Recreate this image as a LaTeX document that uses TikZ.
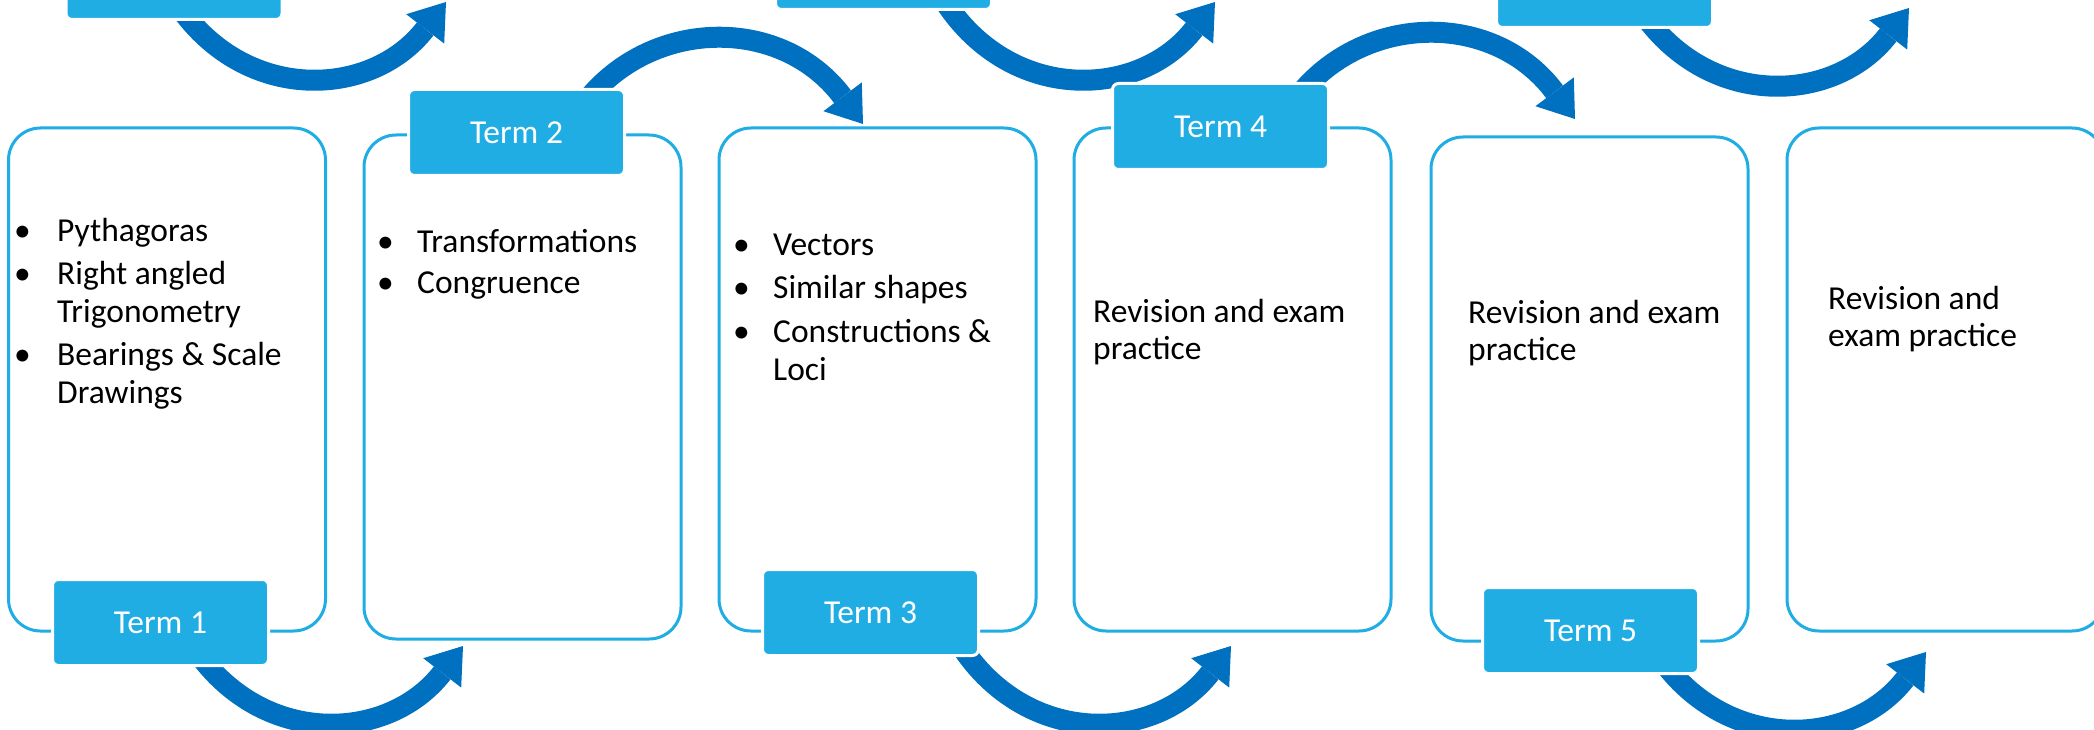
\documentclass[tikz,border=0pt]{standalone}
\usepackage{fontspec}
\setmainfont{Carlito}
\usetikzlibrary{arrows.meta}
\definecolor{termblue}{HTML}{1FADE4}
\definecolor{arrowblue}{HTML}{0070C0}
\newcommand{\bitem}[1]{\makebox[#1][l]{\textbullet}}
\begin{document}
\begin{tikzpicture}[x=1pt,y=-1pt,
  bigbox/.style={draw=termblue, line width=3pt, fill=white, rounded corners=32pt,
    minimum width=317pt, minimum height=503pt, inner sep=0pt},
  termbox/.style={draw=white, line width=3pt, fill=termblue, rounded corners=6pt,
    minimum width=216pt, minimum height=86pt, inner sep=0pt, text=white,
    font=\fontsize{33.5}{38.5}\selectfont},
  bigarrow/.style={draw=arrowblue, line width=21pt,
    -{Triangle[width=48pt,length=34pt,line width=0pt]}},
  body/.style={anchor=base west, inner sep=0pt, text=black,
    font=\fontsize{33.5}{38.5}\selectfont}]
\useasboundingbox (0,0) rectangle (2094,730);
\clip (0,0) rectangle (2094,730);

% content boxes
\node[bigbox] (box1) at (167,379.5) {};
\node[bigbox, minimum height=504pt] (box2) at (522.5,387) {};
\node[bigbox] (box3) at (877.5,379.5) {};
\node[bigbox] (box4) at (1232.5,379.5) {};
\node[bigbox, minimum height=504pt] (box5) at (1589.5,389) {};
\node[bigbox] (box6) at (1945.5,379.5) {};

% arrow ends
\coordinate (sA) at (176,2);    \coordinate (tA) at (446,2);
\coordinate (sB) at (945,2);    \coordinate (tB) at (1215,2);
\coordinate (sC) at (1639,8);   \coordinate (tC) at (1909,8);
\coordinate (s1) at (193,646);  \coordinate (t1) at (463,646);
\coordinate (s3) at (961,646);  \coordinate (t3) at (1231,646);
\coordinate (s5) at (1656,652); \coordinate (t5) at (1926,652);
\coordinate (s2) at (577.5,113);  \coordinate (t2) at (863,124);
\coordinate (s4) at (1289.5,108); \coordinate (t4) at (1575,119);

% U-shaped arrows
\draw[bigarrow] (sA) .. controls +(67,102) and +(-75,97) .. (tA);
\draw[bigarrow] (sB) .. controls +(67,102) and +(-75,97) .. (tB);
\draw[bigarrow] (sC) .. controls +(67,102) and +(-75,97) .. (tC);
\draw[bigarrow] (s1) .. controls +(67,102) and +(-75,97) .. (t1);
\draw[bigarrow] (s3) .. controls +(67,102) and +(-75,97) .. (t3);
\draw[bigarrow] (s5) .. controls +(67,102) and +(-75,97) .. (t5);
% arches
\draw[bigarrow] (s2) .. controls +(63,-95) and +(-84,-112) .. (t2);
\draw[bigarrow] (s4) .. controls +(63,-95) and +(-84,-112) .. (t4);

% term labels
\node[termbox] (topA) at (174,-23.5) {};
\node[termbox] (topB) at (883.5,-33.5) {};
\node[termbox] (topC) at (1604.5,-15.5) {};
\node[termbox] (term1) at (160.5,622.5) {Term 1};
\node[termbox] (term2) at (516.5,132.5) {Term 2};
\node[termbox] (term3) at (870.5,612.5) {Term 3};
\node[termbox] (term4) at (1220.5,126.5) {Term 4};
\node[termbox] (term5) at (1590.5,630.5) {Term 5};

% texts
\node[body] (txt1) at (14,242) {\begin{tabular}[t]{@{}l@{}l@{}}
\bitem{43pt} & Pythagoras\\[4pt]
\bitem{43pt} & Right angled\\
 & Trigonometry\\[4pt]
\bitem{43pt} & Bearings \& Scale\\
 & Drawings
\end{tabular}};
\node[body] (txt2) at (377,253) {\begin{tabular}[t]{@{}l@{}l@{}}
\bitem{40pt} & Transformations\\[2pt]
\bitem{40pt} & Congruence
\end{tabular}};
\node[body] (txt3) at (733,255) {\begin{tabular}[t]{@{}l@{}l@{}}
\bitem{40pt} & Vectors\\[5pt]
\bitem{40pt} & Similar shapes\\[5pt]
\bitem{40pt} & Constructions \&\\
 & Loci
\end{tabular}};
\node[body] (txt4) at (1093,322) {\begin{tabular}[t]{@{}l@{}}
Revision and exam\\[-1.5pt]
practice
\end{tabular}};
\node[body] (txt5) at (1468,323) {\begin{tabular}[t]{@{}l@{}}
Revision and exam\\[-1.5pt]
practice
\end{tabular}};
\node[body] (txt6) at (1828,309) {\begin{tabular}[t]{@{}l@{}}
Revision and\\[-1.5pt]
exam practice
\end{tabular}};
\end{tikzpicture}
\end{document}
